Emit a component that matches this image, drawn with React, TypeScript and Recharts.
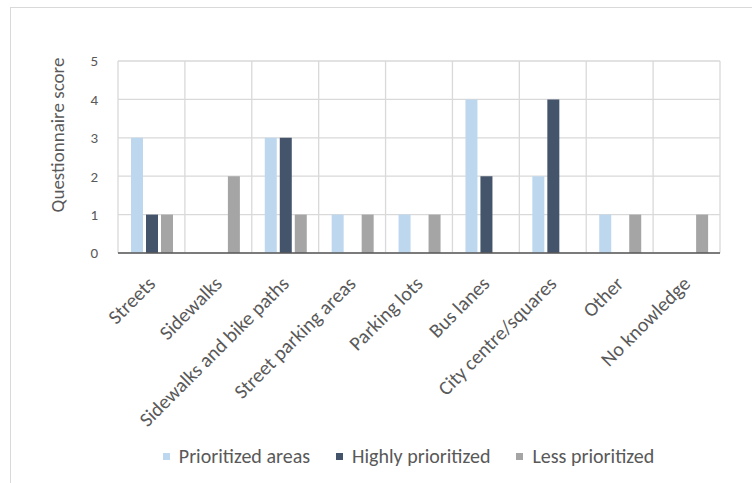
import React from 'react';
import {
  BarChart, Bar, XAxis, YAxis, CartesianGrid,
} from 'recharts';

const categories = [
  'Streets',
  'Sidewalks',
  'Sidewalks and bike paths',
  'Street parking areas',
  'Parking lots',
  'Bus lanes',
  'City centre/squares',
  'Other',
  'No knowledge',
];
const prioritized = [3, 0, 3, 1, 1, 4, 2, 1, 0];
const highlyPrioritized = [1, 0, 3, 0, 0, 2, 4, 0, 0];
const lessPrioritized = [1, 2, 1, 1, 1, 0, 0, 1, 1];
const yTicks = [0, 1, 2, 3, 4, 5];

const colors = {
  prioritized: '#BDD7EE',
  highly: '#44546A',
  less: '#A5A5A5',
  grid: '#D9D9D9',
  axis: '#595959',
  text: '#595959',
  border: '#D9D9D9',
};

const series = [
  { key: 'prioritized', name: 'Prioritized areas', color: colors.prioritized },
  { key: 'highly', name: 'Highly prioritized', color: colors.highly },
  { key: 'less', name: 'Less prioritized', color: colors.less },
];

const fontFamily = 'Carlito, Calibri, Lato, sans-serif';

const data = categories.map((name, i) => {
  return {
    name,
    prioritized: prioritized[i],
    highly: highlyPrioritized[i],
    less: lessPrioritized[i],
  };
});

const AngledTick = ({ x, y, payload }) => {
  const ax = x + 5;
  const ay = y + 30;
  return (
    <text
      x={ax}
      y={ay}
      transform={`rotate(-45, ${ax}, ${ay})`}
      textAnchor="end"
      fontSize={20}
      fontFamily={fontFamily}
      fill={colors.text}
    >
      {payload.value}
    </text>
  );
};

const YTitle = () => {
  return (
    <text
      x={64}
      y={135}
      transform="rotate(-90, 64, 135)"
      textAnchor="middle"
      fontSize={19}
      fontFamily={fontFamily}
      fill={colors.text}
    >
      Questionnaire score
    </text>
  );
};

const ChartLegend = () => {
  return (
    <div
      style={{
        position: 'absolute', top: 444, left: 0, width: 817, display: 'flex', justifyContent: 'center', gap: 26, fontFamily, fontSize: 20, color: colors.text,
      }}
    >
      {series.map((s) => {
        return (
          <div key={s.key} style={{ display: 'flex', alignItems: 'center' }}>
            <span style={{ display: 'inline-block', width: 7, height: 7, background: s.color, marginRight: 9 }} />
            <span>{s.name}</span>
          </div>
        );
      })}
    </div>
  );
};

// grid lines go on the category boundaries, like excel
const boundaryLines = ({ offset }) => {
  const step = offset.width / categories.length;
  return categories.map((c, i) => offset.left + i * step).concat(offset.left + offset.width);
};

const App = () => {
  return (
    <div style={{ position: 'relative', width: 752, height: 483, overflow: 'hidden', background: '#fff' }}>
      <style>{'body { margin: 0; }'}</style>
      <div
        style={{
          position: 'absolute', left: 10, top: 7, width: 800, height: 600, border: `1px solid ${colors.border}`,
        }}
      />
      <div style={{ position: 'absolute', left: 0, top: 0 }}>
        <BarChart
          width={752}
          height={483}
          data={data}
          margin={{
            top: 61, right: 32, left: 88, bottom: 0,
          }}
          barCategoryGap={13}
          barGap={3}
        >
          <CartesianGrid stroke={colors.grid} strokeWidth={1.3} verticalCoordinatesGenerator={boundaryLines} />
          <XAxis
            dataKey="name"
            interval={0}
            tickLine={false}
            tickSize={0}
            stroke={colors.axis}
            strokeWidth={1.3}
            height={230}
            tick={<AngledTick />}
          />
          <YAxis
            width={30}
            domain={[0, 5]}
            ticks={yTicks}
            axisLine={false}
            tickLine={false}
            tickSize={0}
            tickMargin={20}
            tick={{ fontSize: 15, fill: colors.text, fontFamily }}
            label={<YTitle />}
          />
          {series.map((s) => {
            return (
              <Bar key={s.key} dataKey={s.key} name={s.name} fill={s.color} isAnimationActive={false} />
            );
          })}
        </BarChart>
      </div>
      <ChartLegend />
    </div>
  );
};

export default App;
